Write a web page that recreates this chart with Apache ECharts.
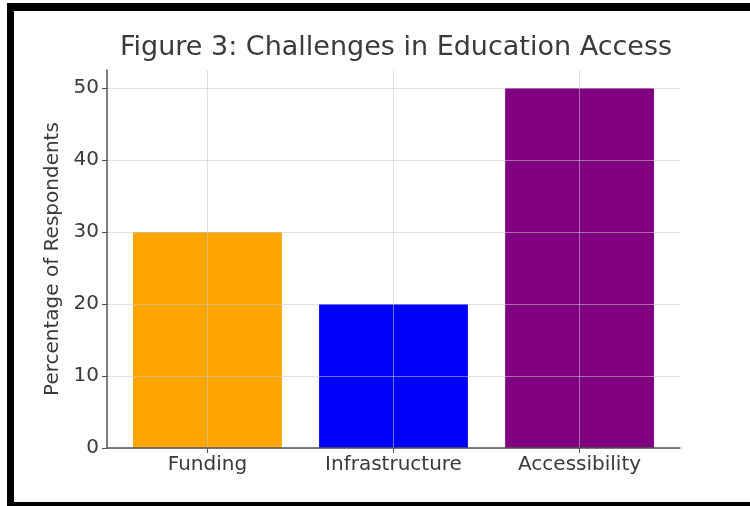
<!DOCTYPE html>
<html>
<head>
<meta charset="utf-8">
<script src="https://cdn.jsdelivr.net/npm/echarts@6/dist/echarts.min.js"></script>
<style>
  html, body { margin: 0; padding: 0; background: #fff; }
  #wrap { position: relative; width: 750px; height: 506px; overflow: hidden; }
  #chart { position: absolute; left: 0; top: 0; width: 750px; height: 506px; }
  #frame {
    position: absolute; left: 7px; top: 3px; width: 800px; height: 491px;
    border-top: 8px solid #000; border-left: 7px solid #000; border-bottom: 8px solid #000;
    box-sizing: content-box; pointer-events: none;
  }
</style>
</head>
<body>
<div id="wrap">
  <div id="chart"></div>
  <div id="frame"></div>
</div>
<script>
// Chart data
const titleText = 'Figure 3: Challenges in Education Access';
const yAxisTitle = 'Percentage of Respondents';
const categories = ['Funding', 'Infrastructure', 'Accessibility'];
const values = [30, 20, 50];
const barColors = ['#FFA500', '#0000FF', '#800080'];
const yTicks = [0, 10, 20, 30, 40, 50];

// Layout
const gridLeft = 107, gridRight = 70, gridTop = 70, gridBottom = 58;
const xMin = -0.54, xMax = 2.54;
const gridWidth = 750 - gridLeft - gridRight;
const barPx = gridWidth / (xMax - xMin) * 0.8;

const font = 'DejaVu Sans';
const textColor = '#3a3a3a';
const axisColor = '#555';
const gridColor = 'rgba(200,200,200,0.55)';

const chart = echarts.init(document.getElementById('chart'), null, { renderer: 'canvas' });
chart.setOption({
  backgroundColor: 'transparent',
  animation: false,
  title: {
    text: titleText,
    left: 391,
    textAlign: 'center',
    top: 29,
    textStyle: { fontFamily: font, fontSize: 27, fontWeight: 'normal', color: textColor }
  },
  grid: { left: gridLeft, right: gridRight, top: gridTop, bottom: gridBottom, containLabel: false },
  xAxis: {
    type: 'value',
    min: xMin,
    max: xMax,
    z: 3,
    axisLine: { show: true, onZero: false, lineStyle: { color: axisColor, width: 1.5 } },
    axisTick: { show: true, length: 5, customValues: categories.map((c, i) => i), lineStyle: { color: axisColor } },
    axisLabel: {
      customValues: categories.map((c, i) => i),
      formatter: v => categories[Math.round(v)] || '',
      fontFamily: font, fontSize: 20, color: textColor, margin: 7
    },
    splitLine: { show: true, lineStyle: { color: gridColor, width: 1 } }
  },
  yAxis: {
    type: 'value',
    min: 0,
    max: 52.5,
    z: 3,
    name: yAxisTitle,
    nameLocation: 'middle',
    nameGap: 39,
    nameTextStyle: { fontFamily: font, fontSize: 20, color: textColor },
    axisLine: { show: true, onZero: false, lineStyle: { color: axisColor, width: 1.5 } },
    axisTick: { show: true, length: 5, customValues: yTicks, lineStyle: { color: axisColor } },
    axisLabel: { customValues: yTicks, fontFamily: font, fontSize: 20, color: textColor, margin: 8 },
    splitLine: { show: true, lineStyle: { color: gridColor, width: 1 } }
  },
  series: [{
    type: 'bar',
    barWidth: barPx,
    z: 2,
    data: values.map((v, i) => ({ value: [i, v], itemStyle: { color: barColors[i] } }))
  }]
});
</script>
</body>
</html>
